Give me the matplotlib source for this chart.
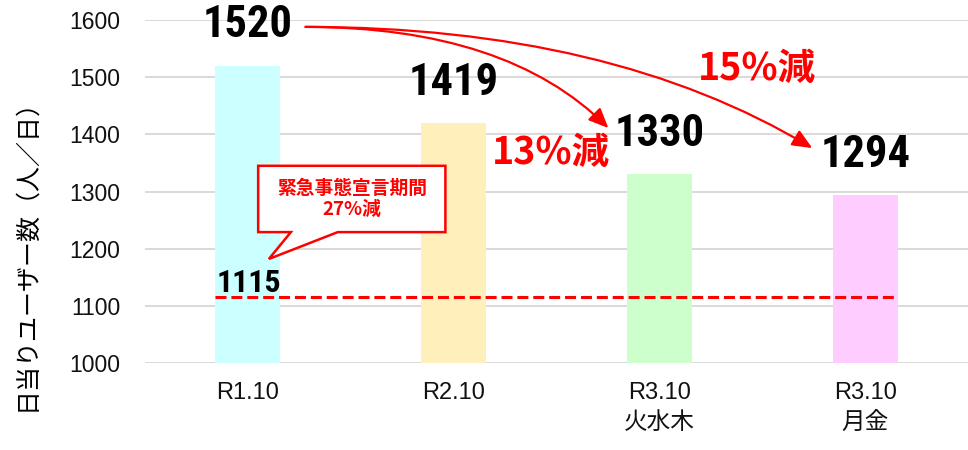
import matplotlib
matplotlib.use("Agg")
import matplotlib.pyplot as plt
from matplotlib.patches import Polygon

plt.rcParams['font.family'] = ['Liberation Sans', 'Noto Sans CJK JP']

# data
categories = ['R1.10', 'R2.10', 'R3.10\n火水木', 'R3.10\n月金']
users = [1520, 1419, 1330, 1294]
bar_colors = ['#CCFFFF', '#FFF0BB', '#CCFFCC', '#FFCCFF']
emergency_value = 1115
yticks = [1000, 1100, 1200, 1300, 1400, 1500, 1600]

RED = '#FF0000'
num_font = ['Roboto Condensed', 'Archivo Narrow', 'PT Sans Narrow',
            'IBM Plex Sans Condensed', 'DejaVu Sans']
jp_font = ['Noto Sans CJK JP', 'DejaVu Sans']

fig = plt.figure(figsize=(9.68, 4.5), dpi=100)
ax = fig.add_axes([0.1498, 0.1933, 0.8502, 0.7622])

x = list(range(len(categories)))
bw = 0.316
ax.bar(x, [u - 1000 for u in users], bottom=1000, width=bw, color=bar_colors, zorder=2)

ax.set_xlim(-0.5, 3.5)
ax.set_ylim(1000, 1600)
ax.set_yticks(yticks)
ax.set_yticklabels([str(t) for t in yticks], fontsize=16.5, color='#111111')
ax.set_xticks(x)
ax.set_xticklabels(categories, fontsize=17, color='#111111', linespacing=1.45, va='top')
ax.tick_params(axis='y', length=0, pad=18)
ax.tick_params(axis='x', length=0, pad=14)
ax.grid(axis='y', color='#D9D9D9', lw=1.4, zorder=0)
ax.set_axisbelow(True)
for s in ax.spines.values():
    s.set_visible(False)

ax.set_ylabel('日当りユーザー数（人／日）', fontsize=18, family=jp_font)
ax.yaxis.set_label_coords(-0.129, 0.335)

# value labels
for xi, v in zip(x, users):
    ax.annotate(str(v), (xi, v), xytext=(0, 29), textcoords='offset points',
                ha='center', va='center', fontsize=32, fontweight='bold',
                family=num_font, color='black', zorder=5)

# emergency line
ax.hlines(emergency_value, x[0] - bw / 2, x[-1] + bw / 2, colors=RED, lw=2.2,
          linestyles=(0, (3.6, 1.6)), zorder=3)
ax.text(x[0] - bw / 2 + 0.007, emergency_value + 9, str(emergency_value), ha='left',
        va='baseline', fontsize=23, fontweight='bold', family=num_font, zorder=5)

# arrows from 1520
start = (0.28, 1588)
ax.annotate('', xy=(1.752, 1411), xytext=start,
            arrowprops=dict(arrowstyle='-|>,head_length=0.8,head_width=0.35',
                            mutation_scale=15, color=RED, lw=1.6,
                            shrinkA=0, shrinkB=0,
                            connectionstyle='angle3,angleA=0,angleB=-45'),
            zorder=4)
ax.annotate('', xy=(2.743, 1376), xytext=start,
            arrowprops=dict(arrowstyle='-|>,head_length=0.8,head_width=0.35',
                            mutation_scale=15, color=RED, lw=1.6,
                            shrinkA=0, shrinkB=0,
                            connectionstyle='angle3,angleA=0,angleB=-31'),
            zorder=4)

ax.text(1.471, 1369, '13%減', ha='center', va='center', fontsize=27,
        fontweight='bold', family=jp_font, color=RED, zorder=5)
ax.text(2.476, 1516, '15%減', ha='center', va='center', fontsize=27,
        fontweight='bold', family=jp_font, color=RED, zorder=5)

# callout box
bx0, bx1, by0, by1 = 0.05, 0.96, 1229, 1345
callout = Polygon([(bx0, by1), (bx1, by1), (bx1, by0), (0.437, by0),
                   (0.102, 1182), (0.209, by0), (bx0, by0)],
                  closed=True, facecolor='white', edgecolor=RED, lw=1.8, zorder=4)
ax.add_patch(callout)
ax.text((bx0 + bx1) / 2, (by0 + by1) / 2, '緊急事態宣言期間\n27%減', ha='center',
        va='center', fontsize=13.5, fontweight='bold', family=jp_font, color=RED,
        linespacing=1.15, zorder=5)

fig.savefig('out.png', dpi=100)
